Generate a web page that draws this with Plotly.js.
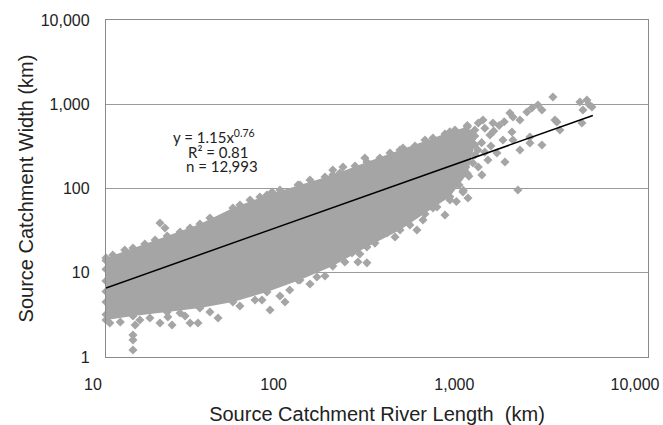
<!DOCTYPE html>
<html>
<head>
<meta charset="utf-8">
<script src="https://cdn.plot.ly/plotly-3.0.1.min.js"></script>
<style>html,body{margin:0;padding:0;background:#fff}#chart{width:663px;height:425px}</style>
</head>
<body>
<div id="chart"></div>
<script>
// Dense part of the cloud, read as an envelope (x: river length km, y: width km)
var bandX     = [10, 14.1, 21.8, 33.1, 50.4, 77.8, 118.5, 180, 278, 424, 645, 800, 1000, 1100];
var bandUpper = [15.0, 19.7, 27.3, 37.9, 58.7, 83.7, 110, 145, 206, 286, 397, 470, 540, 420];
var bandLower = [2.75, 3.07, 3.42, 3.82, 4.5, 5.91, 8.2, 12.0, 20.2, 32.2, 58.7, 80, 150, 330];

// Individual points (edges, outliers, sparse upper end)
var ptX = [
  14.1, 14.1, 14.1, 14.5, 19.9, 23.2, 22.0, 29.2, 32.3, 41.7, 25.7, 73.0, 80.9, 97.9, 147, 115.5, 185, 230, 248, 278, 328, 359, 526, 568, 679, 752, 1008, 1905, 946,
  19.9, 21.2, 83, 115.5, 180, 205, 271, 440,
  1220, 1386, 1720, 1788, 1955, 2137, 2278, 2459, 2588, 2977, 3132, 4200, 4590, 4894, 4363, 4308, 1574, 1788, 1955, 2220, 2588, 3254, 1615, 1204, 1074, 1458, 1765, 2220, 3053, 1038, 1100, 1334, 1144, 1300, 4700,
  1000, 1050, 1150, 1250, 1400, 1500, 1600, 1050, 1200, 1350, 1100, 1250, 980, 1020, 900, 950, 1150, 870,
  10.9, 12.7, 16.4, 18.7, 25.7, 29.2, 37.6, 55.1, 62.7, 71.1, 91.8, 134.6, 163, 197, 239, 328, 373, 513, 583, 752, 854,
  10.5, 12.0, 15.4, 17.5, 27.4, 37.6, 55.1, 66.8, 91.8, 104, 134.6, 163, 210, 254, 308, 398, 481, 583, 801,
  10, 10, 10, 10, 10, 10
];
var ptY = [
  1.82, 1.59, 1.21, 2.40, 2.53, 2.40, 2.98, 2.53, 2.53, 2.90, 3.33, 4.75, 3.61, 4.50, 8.90, 8.20, 15.4, 17.2, 13.4, 13.1, 34.9, 29.6, 32.2, 42.3, 60.3, 48.5, 77.1, 96, 90.9,
  39.0, 34.0, 90.9, 110, 166, 180, 230, 302,
  650, 599, 787, 706, 650, 809, 903, 980, 855, 1219, 616, 1063, 1123, 928, 855, 599, 376, 376, 286, 347, 328, 495, 206, 145, 201, 264, 468, 408, 650, 328, 495, 431, 286, 218, 1000,
  560, 450, 600, 520, 480, 560, 620, 380, 350, 320, 250, 270, 180, 140, 110, 95, 180, 70,
  16.2, 18.6, 21.9, 24.5, 30.4, 34.0, 44.7, 63.7, 73.0, 79.3, 96, 126, 137, 153, 185, 230, 264, 320, 376, 444, 495,
  2.53, 2.60, 2.75, 2.90, 3.07, 3.42, 4.03, 4.75, 5.30, 6.24, 7.35, 9.15, 13.4, 16.7, 22.5, 26.6, 36.9, 49.8, 73.0,
  3.2, 4.5, 6, 8, 11, 14
];

// Power trendline y = 1.15x^0.76, end points
var trendX = [10, 4950];
var trendY = [6.6, 735];

var xTicks = [10, 100, 1000, 10000];
var xTickText = ['10', '100', '1,000', '10,000'];
var yTicks = [1, 10, 100, 1000, 10000];
var yTickText = ['1', '10', '100', '1,000', '10,000'];

var eqLines = ['y = 1.15x<sup>0.76</sup>', 'R\u00b2 = 0.81', 'n = 12,993'];

var grey = '#a5a5a5';
var polyX = bandX.concat(bandX.slice().reverse());
var polyY = bandUpper.concat(bandLower.slice().reverse());

var traces = [
  {x: polyX, y: polyY, type: 'scatter', mode: 'lines', fill: 'toself',
   fillcolor: grey, line: {width: 0, color: grey}, hoverinfo: 'skip', showlegend: false},
  {x: bandX.concat(bandX), y: bandUpper.concat(bandLower), type: 'scatter', mode: 'markers',
   marker: {symbol: 'diamond', size: 7, color: grey}, cliponaxis: false, showlegend: false},
  {x: ptX, y: ptY, type: 'scatter', mode: 'markers',
   marker: {symbol: 'diamond', size: 7, color: grey}, cliponaxis: false, showlegend: false},
  {x: trendX, y: trendY, type: 'scatter', mode: 'lines',
   line: {color: '#000', width: 1.5}, showlegend: false}
];

var txt = '#222';
var eqPos = [[0.200, 0.653], [0.207, 0.607], [0.214, 0.568]];
var annotations = eqLines.map(function (t, i) {
  return {text: t, xref: 'paper', yref: 'paper', x: eqPos[i][0], y: eqPos[i][1],
          xanchor: 'center', yanchor: 'middle', showarrow: false,
          font: {family: 'Lato, "Open Sans", sans-serif', size: 15, color: txt}};
});

var layout = {
  width: 663, height: 425,
  margin: {l: 106, r: 15, t: 20, b: 68},
  paper_bgcolor: '#fff', plot_bgcolor: '#fff',
  showlegend: false,
  font: {family: '"Liberation Sans", Arial, sans-serif', color: txt},
  xaxis: {
    type: 'log', range: [1, 4], showgrid: false, zeroline: false,
    showline: true, mirror: true, linecolor: '#8a8a8a', linewidth: 1.2,
    tickmode: 'array', tickvals: xTicks, ticktext: xTickText, ticks: '',
    tickfont: {size: 16, color: txt}, ticklabelstandoff: 13, ticklabelshift: -13,
    title: {text: 'Source Catchment River Length  (km)', font: {size: 20, color: txt}, standoff: 14}
  },
  yaxis: {
    type: 'log', range: [0, 4], showgrid: true, gridcolor: '#9a9a9a', gridwidth: 1.2,
    zeroline: false, showline: true, mirror: true, linecolor: '#8a8a8a', linewidth: 1.2,
    tickmode: 'array', tickvals: yTicks, ticktext: yTickText, ticks: '',
    tickfont: {size: 16, color: txt}, ticklabelstandoff: 12,
    title: {text: 'Source Catchment Width (km)', font: {size: 20, color: txt}, standoff: 1}
  },
  annotations: annotations
};

Plotly.newPlot('chart', traces, layout, {displayModeBar: false, staticPlot: true});
</script>
</body>
</html>
